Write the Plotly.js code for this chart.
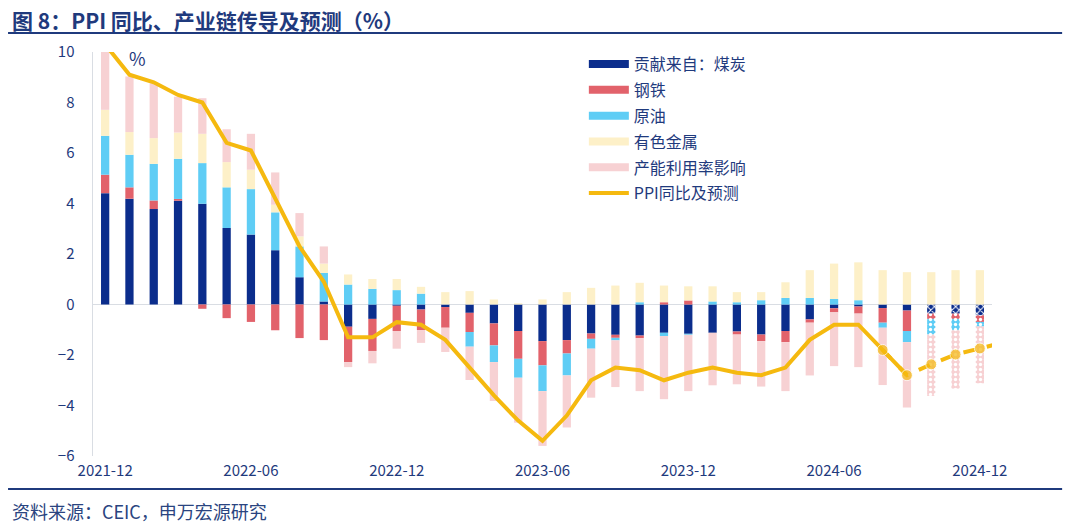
<!DOCTYPE html>
<html>
<head>
<meta charset="utf-8">
<script src="https://cdn.plot.ly/plotly-3.0.1.min.js"></script>
<style>
  html, body { margin: 0; padding: 0; background: #ffffff; }
  #chart { width: 1080px; height: 529px; }
</style>
</head>
<body>
<div id="chart"></div>
<script>
// PPI contribution chart: stacked bars per sector + PPI line and forecast.
var MONTHS = [
  "2021-12",
  "2022-01", "2022-02", "2022-03", "2022-04", "2022-05", "2022-06",
  "2022-07", "2022-08", "2022-09", "2022-10", "2022-11", "2022-12",
  "2023-01", "2023-02", "2023-03", "2023-04", "2023-05", "2023-06",
  "2023-07", "2023-08", "2023-09", "2023-10", "2023-11", "2023-12",
  "2024-01", "2024-02", "2024-03", "2024-04", "2024-05", "2024-06",
  "2024-07", "2024-08", "2024-09", "2024-10", "2024-11", "2024-12"
];
var TICK_LABELS = ["2021-12", "2022-06", "2022-12", "2023-06", "2023-12", "2024-06", "2024-12"];
var FORECAST_FROM = "2024-10";

var COAL = [4.41, 4.19, 3.78, 4.11, 3.99, 3.03, 2.77, 2.15, 1.08, 0.12, -0.88, -0.57, -0.05,
  -0.2, -0.1, -0.33, -0.75, -1.05, -1.45, -1.41, -1.15, -1.2, -1.23, -1.12, -1.16,
  -1.12, -1.07, -1.19, -1.05, -0.59, -0.15, -0.08, -0.14, -0.24, -0.36, -0.36, -0.43];
var STEEL = [0.73, 0.45, 0.34, 0.07, -0.17, -0.54, -0.69, -1.02, -1.33, -1.41, -1.4, -1.27, -1.0,
  -0.82, -0.82, -0.76, -0.87, -1.1, -0.96, -0.53, -0.21, -0.12, -0.1, 0.09, 0.16,
  0, -0.12, -0.26, -0.44, -0.13, -0.16, -0.28, -0.58, -0.81, -0.21, -0.21, -0.26];
var OIL = [1.54, 1.29, 1.45, 1.59, 1.61, 1.61, 1.8, 1.5, 1.22, 1.13, 0.79, 0.62, 0.57,
  0.43, 0, -0.58, -0.66, -0.75, -1.02, -0.87, -0.39, -0.1, 0.09, -0.13, -0.04,
  0.12, 0.09, 0.17, 0.26, 0.26, 0.22, 0.17, -0.2, -0.44, -0.62, -0.45, -0.18];
var METALS = [1.03, 0.9, 1.02, 1.04, 1.16, 1.0, 0.77, 0.3, 0.4, 0.37, 0.4, 0.39, 0.44,
  0.27, 0.49, 0.53, 0.2, 0.05, 0.2, 0.49, 0.66, 0.75, 0.77, 0.66, 0.56,
  0.6, 0.4, 0.32, 0.62, 1.1, 1.4, 1.5, 1.36, 1.28, 1.28, 1.36, 1.36];
var CAPACITY = [2.6, 2.2, 2.17, 1.42, 1.41, 1.3, 1.42, 1.28, 0.92, 0.68, -0.2, -0.49, -0.7,
  -0.5, -0.96, -1.32, -1.54, -1.78, -2.17, -2.06, -1.94, -1.85, -2.1, -2.5, -2.23,
  -2.08, -1.97, -1.8, -1.94, -2.09, -2.13, -2.12, -2.27, -2.59, -2.43, -2.31, -2.25];

var PPI_MONTHS = MONTHS.slice(0, 34);
var PPI = [10.3, 9.1, 8.8, 8.3, 8.0, 6.4, 6.1, 4.2, 2.3, 0.9, -1.3, -1.3, -0.7,
  -0.8, -1.4, -2.5, -3.6, -4.6, -5.4, -4.4, -3.0, -2.5, -2.6, -3.0, -2.7,
  -2.5, -2.7, -2.8, -2.5, -1.4, -0.8, -0.8, -1.8, -2.8];
var PPI_FC_MONTHS = ["2024-08", "2024-09", "2024-10", "2024-11", "2024-12", "2025-01"];
var PPI_FC = [-1.8, -2.8, -2.37, -1.98, -1.74, -1.5];

var SERIES_NAMES = ["贡献来自：煤炭", "钢铁", "原油", "有色金属", "产能利用率影响", "PPI同比及预测"];

(function () {
  "use strict";

  var NAVY_TEXT = "#1f3a7d";
  var FONT = '"Noto Sans CJK SC", "Noto Sans", sans-serif';
  var LINE_COLOR = "#f5b90f";

  var BAR_STYLES = [
    { color: "#0b2d8c", pattern: "x" },
    { color: "#e2626b", pattern: "." },
    { color: "#5fcdf5", pattern: "." },
    { color: "#fdf0c8", pattern: "" },
    { color: "#f7d1d3", pattern: "." }
  ];

  function patternFor(shape) {
    var forecastIdx = MONTHS.indexOf(FORECAST_FROM);
    return MONTHS.map(function (m, i) {
      return (i >= forecastIdx) ? shape : "";
    });
  }

  function buildTraces() {
    var values = [COAL, STEEL, OIL, METALS, CAPACITY];
    var traces = values.map(function (vals, k) {
      var style = BAR_STYLES[k];
      return {
        type: "bar",
        name: SERIES_NAMES[k],
        x: MONTHS,
        y: vals,
        width: 0.34,
        showlegend: false,
        marker: {
          color: style.color,
          line: { width: 0 },
          pattern: {
            shape: patternFor(style.pattern),
            fgcolor: "#ffffff",
            bgcolor: style.color,
            size: 5,
            solidity: 0.35
          }
        },
        hoverinfo: "x+y+name"
      };
    });

    traces.push({
      type: "scatter",
      mode: "lines",
      name: SERIES_NAMES[5],
      x: PPI_MONTHS,
      y: PPI,
      line: { color: LINE_COLOR, width: 4 },
      showlegend: false,
      cliponaxis: true
    });

    traces.push({
      type: "scatter",
      mode: "lines+markers",
      name: SERIES_NAMES[5] + "（预测）",
      x: PPI_FC_MONTHS,
      y: PPI_FC,
      line: { color: LINE_COLOR, width: 4, dash: "dash" },
      marker: { color: LINE_COLOR, size: [11, 11, 11, 11, 11, 0] },
      showlegend: false,
      cliponaxis: true
    });

    // legend entries drawn as thick strokes, like the source
    var legendColors = BAR_STYLES.map(function (s) { return s.color; }).concat([LINE_COLOR]);
    legendColors.forEach(function (c, k) {
      traces.push({
        type: "scatter",
        mode: "lines",
        name: SERIES_NAMES[k],
        legendgroup: "g" + k,
        x: [null],
        y: [null],
        line: { color: c, width: k === 5 ? 4 : 8 },
        showlegend: true,
        hoverinfo: "skip"
      });
    });

    return traces;
  }

  function buildLayout() {
    return {
      width: 1080,
      height: 529,
      paper_bgcolor: "#ffffff",
      plot_bgcolor: "#ffffff",
      font: { family: FONT, color: NAVY_TEXT, size: 14 },
      margin: { t: 52, r: 88, b: 73, l: 93, pad: 0 },
      barmode: "relative",
      bargap: 0.66,
      showlegend: true,
      legend: {
        x: 0.546,
        xanchor: "left",
        y: 1.012,
        yanchor: "top",
        bgcolor: "rgba(0,0,0,0)",
        font: { size: 16, color: NAVY_TEXT, family: FONT },
        tracegroupgap: 2,
        itemwidth: 40
      },
      xaxis: {
        type: "category",
        categoryorder: "array",
        categoryarray: MONTHS.concat(["2025-01"]),
        range: [-0.5, MONTHS.length - 0.5],
        tickmode: "array",
        tickvals: TICK_LABELS,
        ticktext: TICK_LABELS,
        ticks: "",
        ticklabelstandoff: 4,
        showgrid: false,
        showline: false,
        zeroline: false,
        tickfont: { size: 15, color: NAVY_TEXT },
        fixedrange: true
      },
      yaxis: {
        range: [-6, 10],
        dtick: 2,
        tick0: 0,
        showgrid: false,
        zeroline: true,
        zerolinecolor: "#d9dde3",
        zerolinewidth: 1.5,
        showline: true,
        linecolor: "#d9dde3",
        linewidth: 1.5,
        ticks: "",
        ticklabelstandoff: 14,
        tickfont: { size: 15, color: NAVY_TEXT },
        fixedrange: true
      },
      shapes: [
        {
          type: "line", xref: "paper", yref: "paper",
          x0: -0.0945, x1: 1.078, y0: 1.047, y1: 1.047,
          line: { color: "#1f3a7d", width: 2 }
        },
        {
          type: "line", xref: "paper", yref: "paper",
          x0: -0.0945, x1: 1.078, y0: -0.0817, y1: -0.0817,
          line: { color: "#1f3a7d", width: 2 }
        }
      ],
      annotations: [
        {
          text: "<b>图 8：PPI 同比、产业链传导及预测（%）</b>",
          xref: "paper", yref: "paper",
          x: -0.0923, y: 1.079,
          xanchor: "left", yanchor: "middle",
          showarrow: false,
          font: { size: 21, color: "#1f3a7d", family: FONT }
        },
        {
          text: "%",
          xref: "paper", yref: "paper",
          x: 0.049, y: 0.985,
          xanchor: "center", yanchor: "middle",
          showarrow: false,
          font: { size: 18, color: NAVY_TEXT, family: FONT }
        },
        {
          text: "资料来源：CEIC，申万宏源研究",
          xref: "paper", yref: "paper",
          x: -0.0923, y: -0.136,
          xanchor: "left", yanchor: "middle",
          showarrow: false,
          font: { size: 18, color: "#2a4480", family: FONT }
        }
      ]
    };
  }

  Plotly.newPlot("chart", buildTraces(), buildLayout(), {
    displayModeBar: false,
    staticPlot: true
  });
})();
</script>
</body>
</html>
